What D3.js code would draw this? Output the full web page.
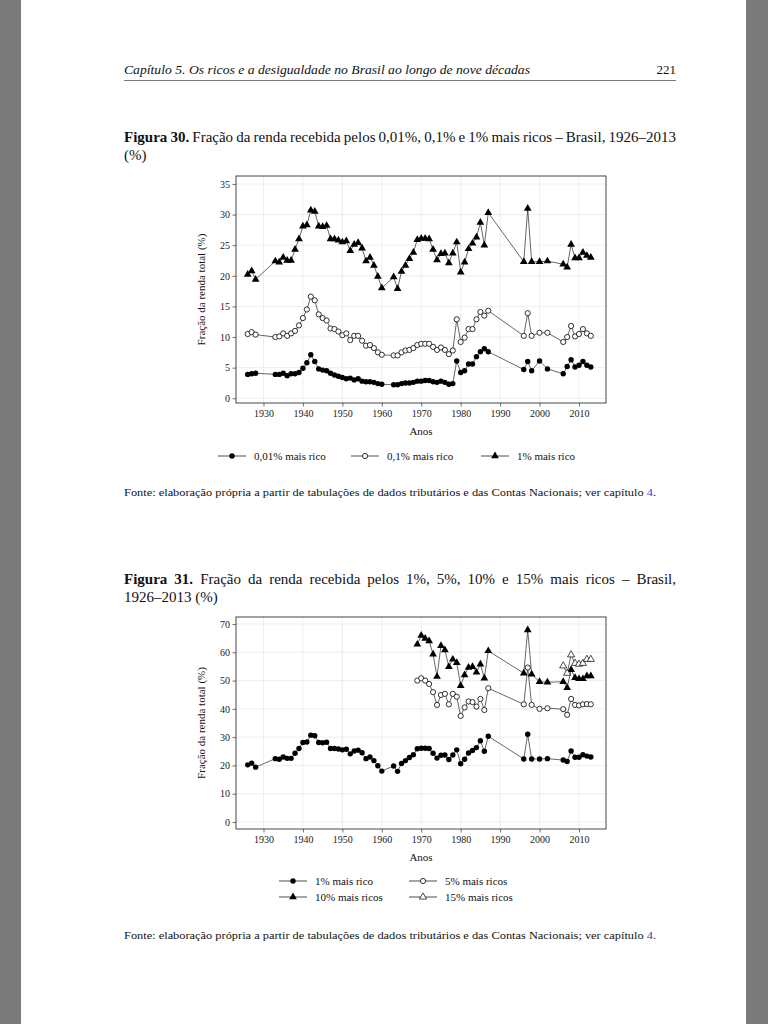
<!DOCTYPE html>
<html><head><meta charset="utf-8">
<script src="https://cdn.jsdelivr.net/npm/d3@7"></script>
<style>
html,body{margin:0;padding:0;background:#7a7a7a;}
svg{display:block;}
text{font-family:"Liberation Serif","DejaVu Serif",serif;}
</style></head>
<body>
<svg id="page" width="768" height="1024"></svg>
<script>
// ---------------- DATA ----------------
const years = [1926,1927,1928,
 1933,1934,1935,1936,1937,1938,1939,1940,1941,1942,1943,1944,1945,1946,1947,1948,1949,1950,1951,1952,1953,1954,1955,1956,1957,1958,1959,1960,
 1963,1964,1965,1966,1967,1968,1969,1970,1971,1972,1973,1974,1975,1976,1977,1978,1979,1980,1981,1982,1983,1984,1985,1986,1987,
 1996,1997,1998,2000,2002,2006,2007,2008,2009,2010,2011,2012,2013];
const top1 = [20.2,20.8,19.4,
 22.4,22.2,23.0,22.5,22.5,24.3,26.0,28.1,28.3,30.7,30.5,28.1,28.0,28.2,26.0,26.0,25.8,25.5,25.7,24.1,25.1,25.4,24.5,22.4,23.0,21.7,19.9,18.0,
 19.8,17.9,20.7,21.7,22.8,23.8,25.9,26.1,26.1,26.0,24.3,22.6,23.6,23.7,22.1,23.7,25.5,20.6,22.2,24.4,25.3,26.3,28.7,25.0,30.3,
 22.3,31.0,22.3,22.3,22.4,21.9,21.4,25.1,22.9,22.9,23.8,23.3,23.0];
const top01 = [10.5,10.8,10.4,
 10.0,10.1,10.6,10.2,10.6,11.0,11.9,13.1,14.5,16.6,16.0,13.7,13.1,12.7,11.4,11.3,10.9,10.3,10.6,9.5,10.2,10.2,9.4,8.6,8.7,8.2,7.5,7.1,
 7.0,7.0,7.5,7.8,7.9,8.2,8.7,8.9,8.9,8.9,8.4,7.9,8.3,7.9,7.2,7.8,12.9,9.2,9.9,11.3,11.3,12.9,14.1,13.5,14.3,
 10.2,13.9,10.2,10.7,10.7,9.2,10.0,11.8,10.1,10.5,11.3,10.6,10.2];
const top001 = [3.9,4.0,4.1,
 3.9,3.9,4.1,3.7,4.0,4.0,4.2,4.9,5.8,7.1,6.0,4.8,4.6,4.5,4.1,3.8,3.6,3.4,3.2,3.3,3.0,3.2,2.8,2.7,2.7,2.6,2.4,2.3,
 2.2,2.2,2.4,2.5,2.5,2.6,2.8,2.8,2.9,2.9,2.7,2.6,2.8,2.6,2.3,2.4,6.1,4.2,4.5,5.6,5.6,6.8,7.6,8.1,7.6,
 4.7,6.0,4.5,6.1,4.8,4.0,5.2,6.3,5.1,5.4,6.0,5.4,5.1];

const years2 = [1969,1970,1971,1972,1973,1974,1975,1976,1977,1978,1979,1980,1981,1982,1983,1984,1985,1986,1987,
 1996,1997,1998,2000,2002,2006,2007,2008,2009,2010,2011,2012,2013];
const top10 = [62.8,65.9,64.9,64.0,59.3,51.4,62.3,60.8,54.9,57.5,56.3,48.2,52.0,54.6,54.9,52.9,55.8,50.8,60.5,
 52.6,67.9,52.2,49.6,49.4,49.6,47.5,53.8,51.0,50.6,50.6,51.6,51.6];
const top5 = [50.0,50.8,50.0,48.8,45.9,41.4,44.9,45.3,41.6,45.3,44.3,37.5,40.5,42.6,42.4,40.8,43.5,39.6,47.3,
 41.6,54.6,41.4,40.0,40.2,39.9,37.9,43.5,41.4,41.2,41.6,41.7,41.6];
const years15 = [2006,2007,2008,2009,2010,2011,2012,2013];
const top15 = [55.2,52.6,59.1,56.1,55.8,56.1,57.5,57.5];

const xTicks = [1930,1940,1950,1960,1970,1980,1990,2000,2010];
const yTicks30 = [0,5,10,15,20,25,30,35];
const yTicks31 = [0,10,20,30,40,50,60,70];
const legend30 = ["0,01% mais rico","0,1% mais rico","1% mais rico"];
const legend31 = ["1% mais rico","5% mais ricos","10% mais ricos","15% mais ricos"];

// ---------------- PAGE ----------------
const svg = d3.select("#page");
svg.append("rect").attr("x",0).attr("y",0).attr("width",768).attr("height",1024).attr("fill","#7a7a7a");
svg.append("rect").attr("x",21).attr("y",0).attr("width",725).attr("height",1024).attr("fill","#ffffff");

const L = 124, R = 676;

// header
svg.append("text").attr("x",L).attr("y",74).attr("font-size",13).attr("font-style","italic")
  .attr("textLength",406).attr("lengthAdjust","spacingAndGlyphs").attr("fill","#111")
  .text("Capítulo 5.  Os ricos e a desigualdade no Brasil ao longo de nove décadas");
svg.append("text").attr("x",R).attr("y",74).attr("font-size",13).attr("text-anchor","end").attr("fill","#111").text("221");
svg.append("line").attr("x1",L).attr("x2",R).attr("y1",80.5).attr("y2",80.5).attr("stroke","#222").attr("stroke-width",0.6);

function justify(words, boldN, x0, x1, y, size){
  const nodes = words.map((w,i)=> svg.append("text").attr("y",y).attr("font-size",size)
     .attr("font-weight", i<boldN ? "bold" : "normal").attr("fill","#111").text(w));
  const widths = nodes.map(n=>n.node().getComputedTextLength());
  const tot = d3.sum(widths);
  const gap = (x1-x0-tot)/(words.length-1);
  let x = x0;
  nodes.forEach((n,i)=>{ n.attr("x",x); x += widths[i]+gap; });
}
justify(["Figura","30.","Fração","da","renda","recebida","pelos","0,01%,","0,1%","e","1%","mais","ricos","–","Brasil,","1926–2013"],2,L,R,142,15);
svg.append("text").attr("x",L).attr("y",160).attr("font-size",15).attr("fill","#111").text("(%)");

justify(["Figura","31.","Fração","da","renda","recebida","pelos","1%,","5%,","10%","e","15%","mais","ricos","–","Brasil,"],2,L,R,584,15);
svg.append("text").attr("x",L).attr("y",602).attr("font-size",15).attr("fill","#111").text("1926–2013 (%)");

function fonte(y){
  const t = svg.append("text").attr("x",L).attr("y",y).attr("font-size",10.5).attr("fill","#111")
    .attr("textLength",532).attr("lengthAdjust","spacingAndGlyphs");
  t.append("tspan").text("Fonte: elaboração própria a partir de tabulações de dados tributários e das Contas Nacionais; ver capítulo ");
  t.append("tspan").attr("fill","#3b3bc8").text("4");
  t.append("tspan").text(".");
}
fonte(496);
fonte(939);

// ---------------- CHARTS ----------------
const triangle = d3.symbol().type(d3.symbolTriangle).size(26);

function drawMarkers(g, xs, ys, x, y, kind){
  const pts = xs.map((d,i)=>[x(d), y(ys[i])]);
  g.append("path").attr("d", d3.line()(pts)).attr("fill","none").attr("stroke","#000").attr("stroke-width",0.6);
  pts.forEach(p=>drawOne(g,p[0],p[1],kind));
}
function drawOne(g,px,py,kind){
  if(kind==="fcircle") g.append("circle").attr("cx",px).attr("cy",py).attr("r",2.7).attr("fill","#000");
  else if(kind==="ocircle") g.append("circle").attr("cx",px).attr("cy",py).attr("r",2.6).attr("fill","#fff").attr("stroke","#000").attr("stroke-width",0.8);
  else if(kind==="ftri") g.append("path").attr("d",triangle()).attr("transform",`translate(${px},${py})`).attr("fill","#000");
  else if(kind==="otri") g.append("path").attr("d",triangle.size(22)()).attr("transform",`translate(${px},${py})`).attr("fill","#fff").attr("stroke","#000").attr("stroke-width",0.7);
  triangle.size(26);
}

function panel(top, bottom, yDomain, yTicks, series, legendItems){
  const x = d3.scaleLinear().domain([1923.03, 2016.85]).range([236, 606]);
  const y = d3.scaleLinear().domain(yDomain).range([bottom, top]);
  const g = svg.append("g");
  g.selectAll(null).data(yTicks).enter().append("line")
   .attr("x1",236).attr("x2",606).attr("y1",d=>y(d)).attr("y2",d=>y(d)).attr("stroke","#e6e6e6").attr("stroke-width",0.7);
  g.selectAll(null).data(xTicks).enter().append("line")
   .attr("y1",top).attr("y2",bottom).attr("x1",d=>x(d)).attr("x2",d=>x(d)).attr("stroke","#e6e6e6").attr("stroke-width",0.7);
  const ax = g.append("g").attr("transform",`translate(0,${bottom})`).call(d3.axisBottom(x).tickValues(xTicks).tickFormat(d3.format("d")).tickSize(3.5).tickPadding(3));
  const ay = g.append("g").attr("transform",`translate(236,0)`).call(d3.axisLeft(y).tickValues(yTicks).tickSize(3.5).tickPadding(2.5));
  [ax,ay].forEach(a=>{ a.select(".domain").remove(); a.selectAll("line").attr("stroke","#333").attr("stroke-width",0.7);
    a.selectAll("text").attr("font-family","Liberation Serif, serif").attr("font-size",10).attr("fill","#222"); });
  series.forEach(s=>drawMarkers(g, s.xs, s.ys, x, y, s.kind));
  g.append("rect").attr("x",236).attr("y",top).attr("width",370).attr("height",bottom-top).attr("fill","none").attr("stroke","#333").attr("stroke-width",0.9);
  g.append("text").attr("x",421).attr("y",bottom+32).attr("text-anchor","middle").attr("font-size",11).attr("fill","#111").text("Anos");
  g.append("text").attr("transform",`translate(205,${(top+bottom)/2}) rotate(-90)`).attr("text-anchor","middle").attr("font-size",11).attr("fill","#111").text("Fração da renda total (%)");
  legendItems.forEach(it=>{
    g.append("line").attr("x1",it.x).attr("x2",it.x+28).attr("y1",it.y).attr("y2",it.y).attr("stroke","#000").attr("stroke-width",0.7);
    drawOne(g,it.x+14,it.y,it.kind);
    g.append("text").attr("x",it.x+36).attr("y",it.y+3.8).attr("font-size",11).attr("fill","#111").text(it.label);
  });
}

panel(176, 403, [-0.77, 36.3], yTicks30, [
  {xs:years, ys:top001, kind:"fcircle"},
  {xs:years, ys:top01, kind:"ocircle"},
  {xs:years, ys:top1, kind:"ftri"}
], [
  {x:218, y:456, kind:"fcircle", label:legend30[0]},
  {x:351, y:456, kind:"ocircle", label:legend30[1]},
  {x:481, y:456, kind:"ftri", label:legend30[2]}
]);

panel(617, 829, [-2.47, 72.47], yTicks31, [
  {xs:years, ys:top1, kind:"fcircle"},
  {xs:years2, ys:top5, kind:"ocircle"},
  {xs:years2, ys:top10, kind:"ftri"},
  {xs:years15, ys:top15, kind:"otri"}
], [
  {x:279, y:881, kind:"fcircle", label:legend31[0]},
  {x:409, y:881, kind:"ocircle", label:legend31[1]},
  {x:279, y:897, kind:"ftri", label:legend31[2]},
  {x:409, y:897, kind:"otri", label:legend31[3]}
]);
</script>
</body></html>
